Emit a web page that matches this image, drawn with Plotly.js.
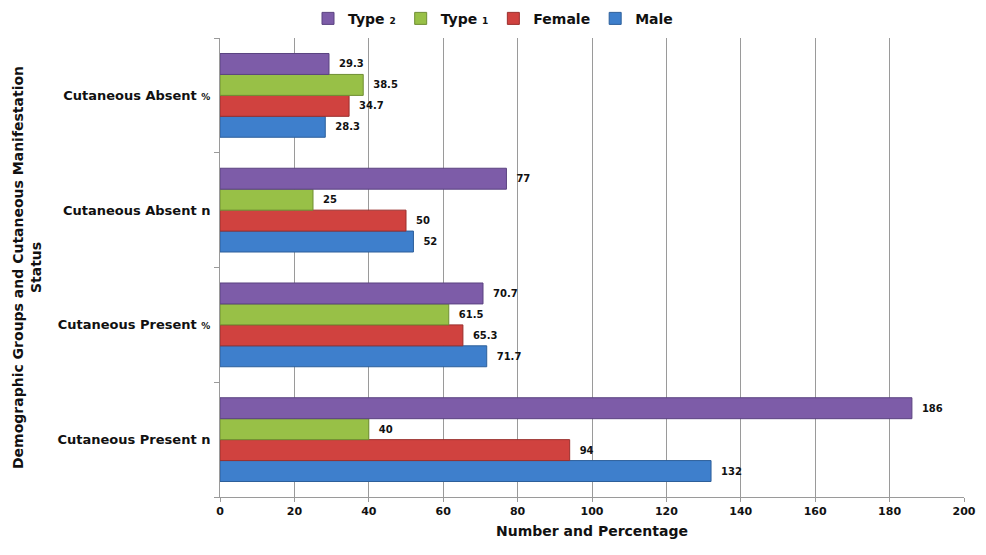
<!DOCTYPE html>
<html>
<head>
<meta charset="utf-8">
<script src="https://cdn.plot.ly/plotly-3.0.1.min.js"></script>
<style>html,body{margin:0;padding:0;background:#fff;}#chart{width:986px;height:555px;}</style>
</head>
<body>
<div id="chart"></div>
<script>
const categories = ["Cutaneous Present n", "Cutaneous Present %", "Cutaneous Absent n", "Cutaneous Absent %"];
const categoryLabels = ["Cutaneous Present n", "Cutaneous Present <span style='font-size:9px'>%</span>", "Cutaneous Absent n", "Cutaneous Absent <span style='font-size:9px'>%</span>"];
const male   = [132, 71.7, 52, 28.3];
const female = [94, 65.3, 50, 34.7];
const type1  = [40, 61.5, 25, 38.5];
const type2  = [186, 70.7, 77, 29.3];
const seriesNames = ["Male", "Female", "Type <span style='font-size:9px'>1</span>", "Type <span style='font-size:9px'>2</span>"];
const seriesColors = ["#3E7FCC", "#D0423F", "#98C047", "#7D5CA8"];
const lineColors = ["#2D5F9A", "#9A2F2D", "#6F8E33", "#5B4380"];
const xTicks = [0, 20, 40, 60, 80, 100, 120, 140, 160, 180, 200];

const FONT = "'DejaVu Sans', Verdana, sans-serif";
const allSeries = [male, female, type1, type2];
const traces = allSeries.map((vals, i) => ({
  type: "bar",
  orientation: "h",
  name: seriesNames[i],
  y: categories,
  x: vals,
  text: vals.map(v => "\u00a0\u00a0" + String(v)),
  textposition: "outside",
  cliponaxis: false,
  textfont: {family: FONT, size: 10, color: "#111", weight: 700},
  marker: {color: seriesColors[i], line: {color: lineColors[i], width: 1}}
}));

const layout = {
  width: 986, height: 555,
  margin: {l: 220, r: 22, t: 38, b: 58},
  paper_bgcolor: "#fff", plot_bgcolor: "#fff",
  barmode: "group",
  bargap: 0.27,
  bargroupgap: 0,
  font: {family: FONT, color: "#111", weight: 700},
  showlegend: true,
  legend: {
    orientation: "h", traceorder: "reversed",
    x: 0.5, xanchor: "center", xref: "container",
    y: 0.995, yanchor: "top", yref: "container",
    font: {family: FONT, size: 14, color: "#111", weight: 700},
    itemwidth: 30,
    tracegroupgap: 0
  },
  xaxis: {
    range: [0, 200],
    tickvals: xTicks,
    ticktext: xTicks.map(String),
    showgrid: true, gridcolor: "#9a9a9a", gridwidth: 1,
    zeroline: false,
    showline: true, linecolor: "#9a9a9a", linewidth: 1,
    ticks: "outside", ticklen: 4, tickcolor: "#9a9a9a",
    tickfont: {family: FONT, size: 11, color: "#111", weight: 700},
    title: {text: "Number and Percentage", font: {family: FONT, size: 14, color: "#111", weight: 700}, standoff: 8},
    fixedrange: true
  },
  yaxis: {
    categoryorder: "array", categoryarray: categories,
    tickvals: categories, ticktext: categoryLabels,
    tickson: "boundaries",
    showline: true, linecolor: "#9a9a9a", linewidth: 1,
    ticks: "outside", ticklen: 5, tickcolor: "#9a9a9a",
    showgrid: false,
    tickfont: {family: FONT, size: 13, color: "#111", weight: 700},
    ticklabelstandoff: 6,
    title: {text: "Demographic Groups and Cutaneous Manifestation<br>Status", font: {family: FONT, size: 14, color: "#111", weight: 700}, standoff: 12},
    fixedrange: true
  }
};

Plotly.newPlot("chart", traces, layout, {displayModeBar: false, staticPlot: true});
</script>
</body>
</html>
